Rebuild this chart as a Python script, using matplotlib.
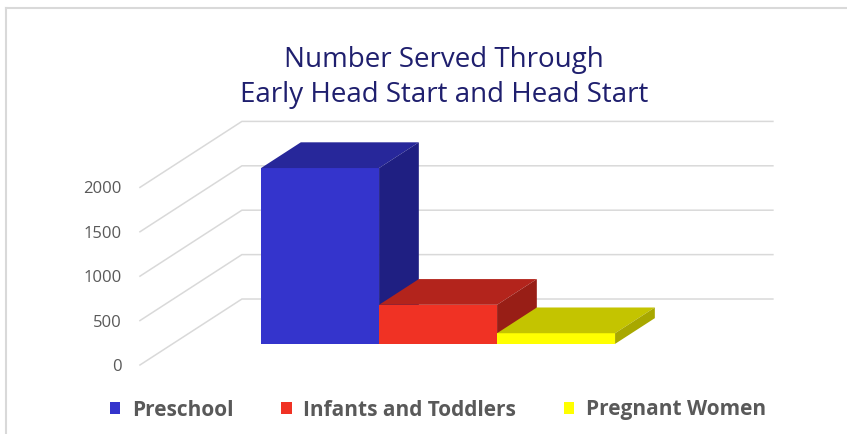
import matplotlib.pyplot as plt
from matplotlib.patches import Polygon
from matplotlib.lines import Line2D

plt.rcParams['font.family'] = ['Open Sans', 'DejaVu Sans']

# data
categories = ['Preschool', 'Infants and Toddlers', 'Pregnant Women']
served = [1980, 440, 120]
ticks = [0, 500, 1000, 1500, 2000]
front_colors = ['#3434CC', '#F03224', '#FFFF00']
top_colors = ['#27279A', '#B3241C', '#C4C400']
side_colors = ['#1F1F82', '#981E16', '#A8A800']

# oblique "3D" set-up, in data units
DX, DY = 0.864, 743      # shift of the back wall relative to the front
D0, D1 = 0.32, 0.71      # depth of the bars
WIDTH = 4.5              # floor width in bar widths
GAP = 0.75

def proj(x, v, d):
    return (x + d * DX, v + d * DY)

fig = plt.figure(figsize=(8.47, 4.34), dpi=100)
ax = fig.add_axes([0, 0, 1, 1])
ax.set_xlim(-1.186, 5.992)
ax.set_ylim(-777, 4110)

# gridlines on side and back wall
for t in ticks:
    x0, y0 = proj(0, t, 0)
    x1, y1 = proj(0, t, 1)
    x2, y2 = proj(WIDTH, t, 1)
    ax.plot([x0, x1, x2], [y0, y1, y2], color='#D9D9D9', lw=1.1, zorder=1)

# bars
handles = []
for i, (name, v) in enumerate(zip(categories, served)):
    left = GAP + i
    right = left + 1
    fx, fy = proj(left, 0, D0)
    b = ax.bar(fx, v, width=1, bottom=fy, align='edge', color=front_colors[i],
               linewidth=0, zorder=2 + i, label=name)
    handles.append(b)
    top = [proj(left, v, D0), proj(right, v, D0), proj(right, v, D1), proj(left, v, D1)]
    side = [proj(right, 0, D0), proj(right, v, D0), proj(right, v, D1), proj(right, 0, D1)]
    ax.add_patch(Polygon(top, closed=True, color=top_colors[i], lw=0, zorder=2 + i))
    ax.add_patch(Polygon(side, closed=True, color=side_colors[i], lw=0, zorder=2 + i))

# value axis labels on the front edge
ax.set_yticks(ticks)
ax.set_xticks([])
ax.spines['left'].set_position(('data', 0))
for s in ax.spines.values():
    s.set_visible(False)
ax.tick_params(axis='y', length=0, pad=13, labelsize=12, labelcolor='#595959')

# title
fig.text(444 / 847, 1 - 66.7 / 434, 'Number Served Through', ha='center', va='baseline',
         fontsize=20, color='#1F1F6E')
fig.text(444 / 847, 1 - 101.7 / 434, 'Early Head Start and Head Start', ha='center',
         va='baseline', fontsize=20, color='#1F1F6E')

# legend
leg = fig.legend(handles=handles, loc='center', bbox_to_anchor=(438 / 847, 1 - 410 / 434),
                 ncol=3, frameon=False, handlelength=0.5, handleheight=0.55,
                 handletextpad=0.55, columnspacing=2.3,
                 prop={'size': 15, 'weight': 'bold'})
for txt in leg.get_texts():
    txt.set_color('#595959')

# chart border (only top and left visible)
fig.add_artist(Line2D([6 / 847, 6 / 847], [0, 1 - 8 / 434], color='#D9D9D9', lw=1.5))
fig.add_artist(Line2D([6 / 847, 1], [1 - 8 / 434, 1 - 8 / 434], color='#D9D9D9', lw=1.5))

fig.savefig('out.png', dpi=100)
